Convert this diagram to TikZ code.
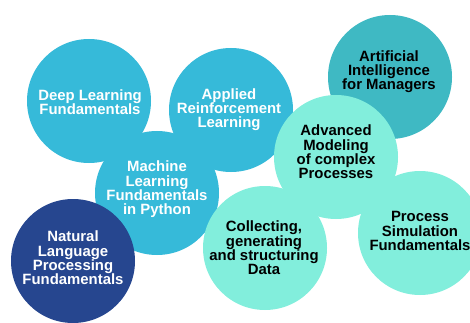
\documentclass[tikz,border=0pt]{standalone}
\usepackage{fontspec}
\setmainfont{Liberation Sans}
\definecolor{skyb}{HTML}{36BAD9}
\definecolor{tealc}{HTML}{3FB9C3}
\definecolor{navyc}{HTML}{26468F}
\definecolor{mintc}{HTML}{82EEDC}
\begin{document}
\begin{tikzpicture}[x=1pt,y=-1pt,
  bub/.style={circle, minimum size=124pt, inner sep=0pt, draw=none},
  lbl/.style={font=\fontsize{14.9}{14.3}\selectfont\bfseries, align=center, inner sep=0pt, text depth=0pt},
  wlbl/.style={lbl, text=white},
  blbl/.style={lbl, text=black}]
\useasboundingbox (0,0) rectangle (470,323);
\node[bub, fill=skyb] (deep) at (89,101) {};
\node[bub, fill=skyb] (appl) at (231,110) {};
\node[bub, fill=skyb] (mach) at (157,193) {};
\node[bub, fill=tealc] (ai) at (390,77) {};
\node[bub, fill=navyc] (nlp) at (73,261) {};
\node[bub, fill=mintc] (adv) at (336,157) {};
\node[bub, fill=mintc] (coll) at (265,248) {};
\node[bub, fill=mintc] (proc) at (420,233) {};
\node[wlbl] (deept) at (90,102) {Deep Learning\\Fundamentals};
\node[wlbl] (applt) at (229,108) {Applied\\Reinforcement\\Learning};
\node[wlbl] (macht) at (157,188) {Machine\\Learning\\Fundamentals\\in Python};
\node[blbl] (ait) at (389,70) {Artificial\\Intelligence\\for Managers};
\node[wlbl] (nlpt) at (73,258) {Natural\\Language\\Processing\\Fundamentals};
\node[blbl] (advt) at (336,152) {Advanced\\Modeling\\of complex\\Processes};
\node[blbl] (collt) at (264,248) {Collecting,\\generating\\and structuring\\Data};
\node[blbl] (proct) at (420,231) {Process\\Simulation\\Fundamentals};
\end{tikzpicture}
\end{document}
